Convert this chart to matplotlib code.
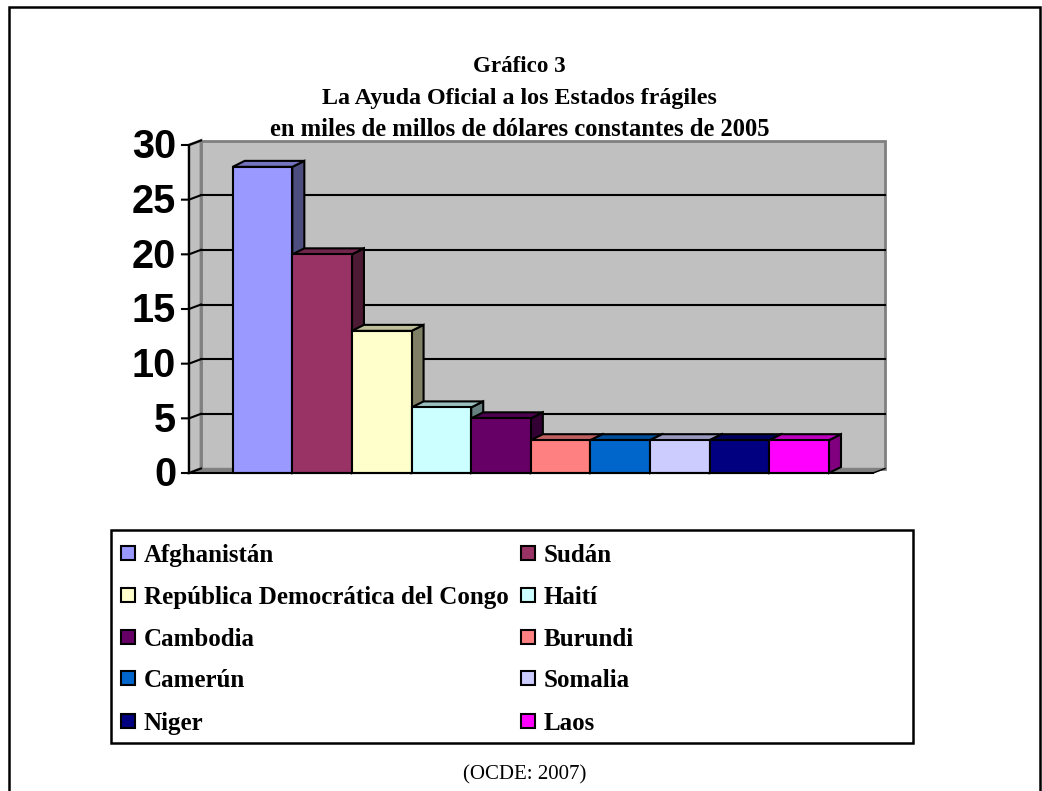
import numpy as np
from matplotlib import pyplot as plt
from matplotlib.patches import Polygon, Rectangle

countries = ['Afghanistán', 'Sudán', 'República Democrática del Congo', 'Haití', 'Cambodia',
             'Burundi', 'Camerún', 'Somalia', 'Niger', 'Laos']
values = [28, 20, 13, 6, 5, 3, 3, 3, 3, 3]
colors = ['#9999FF', '#993366', '#FFFFCC', '#CCFFFF', '#660066',
          '#FF8080', '#0066CC', '#CCCCFF', '#000080', '#FF00FF']
yticks = [0, 5, 10, 15, 20, 25, 30]
title_lines = ['Gráfico 3', 'La Ayuda Oficial a los Estados frágiles',
               'en miles de millos de dólares constantes de 2005']
source = '(OCDE: 2007)'

W, H = 1042, 791


def shade(c, f=0.5):
    """darker version of a hex colour for the bar sides"""
    rgb = np.array([int(c[i:i + 2], 16) for i in (1, 3, 5)]) / 255
    return tuple(rgb * f)


fig = plt.figure(figsize=(W / 100, H / 100), dpi=100)
bg = fig.add_axes([0, 0, 1, 1], xlim=[0, W], ylim=[H, 0])
bg.axis('off')
bg.add_patch(Rectangle((9.3, 7), 1030.5, 800, fc='white', ec='black', lw=1.8, clip_on=True))

# axes box is the front plane of the 3d plot, one unit wide per bar
x0, x1 = 232.7, 829
y0, y1 = 473, 145
ax = fig.add_axes([x0 / W, 1 - y0 / H, (x1 - x0) / W, (y0 - y1) / H],
                  xlim=[0, len(values)], ylim=[0, 30])
ax.axis('off')
ux = (x1 - x0) / len(values)
uy = (y0 - y1) / 30
left = (189 - x0) / ux
right = (873 - x0) / ux
wdx, wdy = 12 / ux, 4.5 / uy
bdx, bdy = 12 / ux, 6 / uy

# walls and floor
ax.add_patch(Polygon([(left + wdx, wdy), (right + wdx, wdy), (right + wdx, 30 + wdy), (left + wdx, 30 + wdy)],
                     fc='#C0C0C0', ec='#808080', lw=2, clip_on=False))
ax.add_patch(Polygon([(left, 0), (left + wdx, wdy), (left + wdx, 30 + wdy), (left, 30)],
                     fc='#C0C0C0', ec='#808080', lw=2, clip_on=False))
ax.add_patch(Polygon([(left, 0), (left + wdx, wdy), (right + wdx, wdy), (right, 0)],
                     fc='#808080', ec='#808080', lw=1, clip_on=False))
ax.plot([left, left], [0, 30], c='black', lw=1.5, clip_on=False)
ax.plot([left, right], [0, 0], c='black', lw=1.5, clip_on=False, zorder=6)
ax.plot([right, right + wdx], [0, wdy], c='black', lw=1, clip_on=False)

for v in yticks:
    ax.plot([left - 7 / ux, left, left + wdx], [v, v, v + wdy], c='black', lw=1.5, clip_on=False)
    if v > 0 and v < 30:
        ax.plot([left + wdx, right + wdx], [v + wdy, v + wdy], c='black', lw=1.5, clip_on=False)
    ax.text(left - 13 / ux, v - 2.5 / uy, str(v), ha='right', va='center', fontsize=28.5, fontweight='bold',
            family='Liberation Sans', clip_on=False)

# bars
for i, (v, c) in enumerate(zip(values, colors)):
    z = 3 + i * 0.01
    ax.add_patch(Polygon([(i + 1, 0), (i + 1 + bdx, bdy), (i + 1 + bdx, v + bdy), (i + 1, v)],
                         fc=shade(c), ec='black', lw=1.5, zorder=z, clip_on=False))
    ax.add_patch(Polygon([(i, v), (i + bdx, v + bdy), (i + 1 + bdx, v + bdy), (i + 1, v)],
                         fc=shade(c, 0.75), ec='black', lw=1.5, zorder=z, clip_on=False))
    ax.bar(i, v, width=1, align='edge', color=c, edgecolor='black', lw=1.5, zorder=z, clip_on=False)

# title
title_ax = fig.add_axes([0, 0, 1, 1], xlim=[0, W], ylim=[H, 0])
title_ax.axis('off')
for line, y, size in zip(title_lines, [64, 96, 127], [16.6, 17.3, 17.7]):
    title_ax.text(519.5, y, line, ha='center', va='center_baseline', fontsize=size, fontweight='bold',
                  family='Liberation Serif')
title_ax.text(524.5, 775, source, ha='center', va='center', fontsize=15, family='Liberation Serif')

# legend
title_ax.add_patch(Rectangle((110.7, 529.5), 802, 213, fc='white', ec='black', lw=1.8))
rows = [553, 595, 637, 678, 721]
for i, (name, c) in enumerate(zip(countries, colors)):
    row = rows[i // 2]
    sx = 120.5 if i % 2 == 0 else 520.5
    title_ax.add_patch(Rectangle((sx, row - 7), 14, 14, fc=c, ec='black', lw=1.5))
    title_ax.text(sx + 23, row, name, ha='left', va='center_baseline', fontsize=18, fontweight='bold',
                  family='Liberation Serif')

fig.savefig('out.png', dpi=100)
